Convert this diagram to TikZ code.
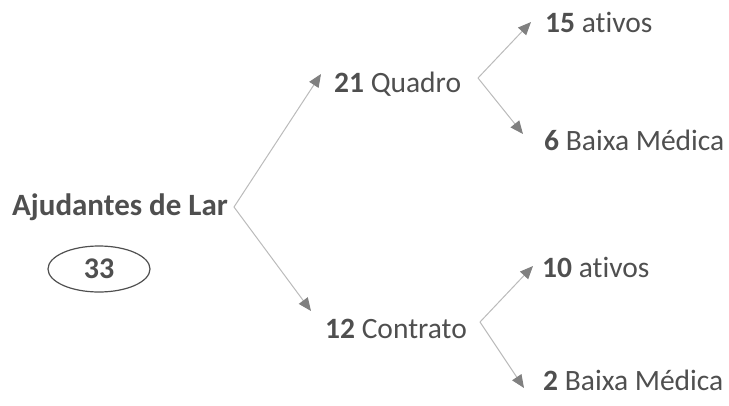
\documentclass[tikz,border=0pt]{standalone}
\usepackage{fontspec}
\setmainfont[Ligatures=NoCommon]{Carlito}
\usetikzlibrary{arrows.meta}
\definecolor{txt}{HTML}{4F4F4F}
\definecolor{ln}{HTML}{BBBBBB}
\definecolor{hd}{HTML}{808080}
\tikzset{
  lbl/.style={anchor=base west, inner sep=0pt, text=txt, font=\fontsize{29.5}{32}\selectfont},
  rootlbl/.style={anchor=base west, inner sep=0pt, text=txt, font=\fontsize{31}{34}\selectfont\bfseries},
  conn/.style={draw=ln, line width=1pt, -{Triangle[length=13pt,width=11pt,color=hd]}},
  oval/.style={draw=txt, line width=1.2pt},
  num/.style={inner sep=0pt, text=txt, font=\fontsize{30}{33}\selectfont\bfseries}
}
\begin{document}
\begin{tikzpicture}[x=1pt,y=-1pt]
\useasboundingbox (0,0) rectangle (729,405);
\node[rootlbl] (root) at (12,215) {Ajudantes de Lar};
\node[num] (tot) at (99,269) {33};
\draw[oval] (tot.center) ellipse [x radius=51pt, y radius=23pt];
\node[lbl] (quad) at (334,92) {\textbf{21} Quadro};
\node[lbl] (cont) at (325,338) {\textbf{12} Contrato};
\node[lbl] (qa) at (545,32) {\textbf{15} ativos};
\node[lbl] (qb) at (544,150) {\textbf{6} Baixa Médica};
\node[lbl] (ca) at (542,277) {\textbf{10} ativos};
\node[lbl] (cb) at (543,390) {\textbf{2} Baixa Médica};
\coordinate (v0) at (234,207);
\coordinate (v1) at (478,78);
\coordinate (v2) at (480,322);
\coordinate (t1) at (321,74);
\coordinate (t2) at (311,311);
\coordinate (t3) at (531,22);
\coordinate (t4) at (523,134);
\coordinate (t5) at (533,266);
\coordinate (t6) at (524,388);
\draw[conn] (v0) -- (t1);
\draw[conn] (v0) -- (t2);
\draw[conn] (v1) -- (t3);
\draw[conn] (v1) -- (t4);
\draw[conn] (v2) -- (t5);
\draw[conn] (v2) -- (t6);
\end{tikzpicture}
\end{document}
